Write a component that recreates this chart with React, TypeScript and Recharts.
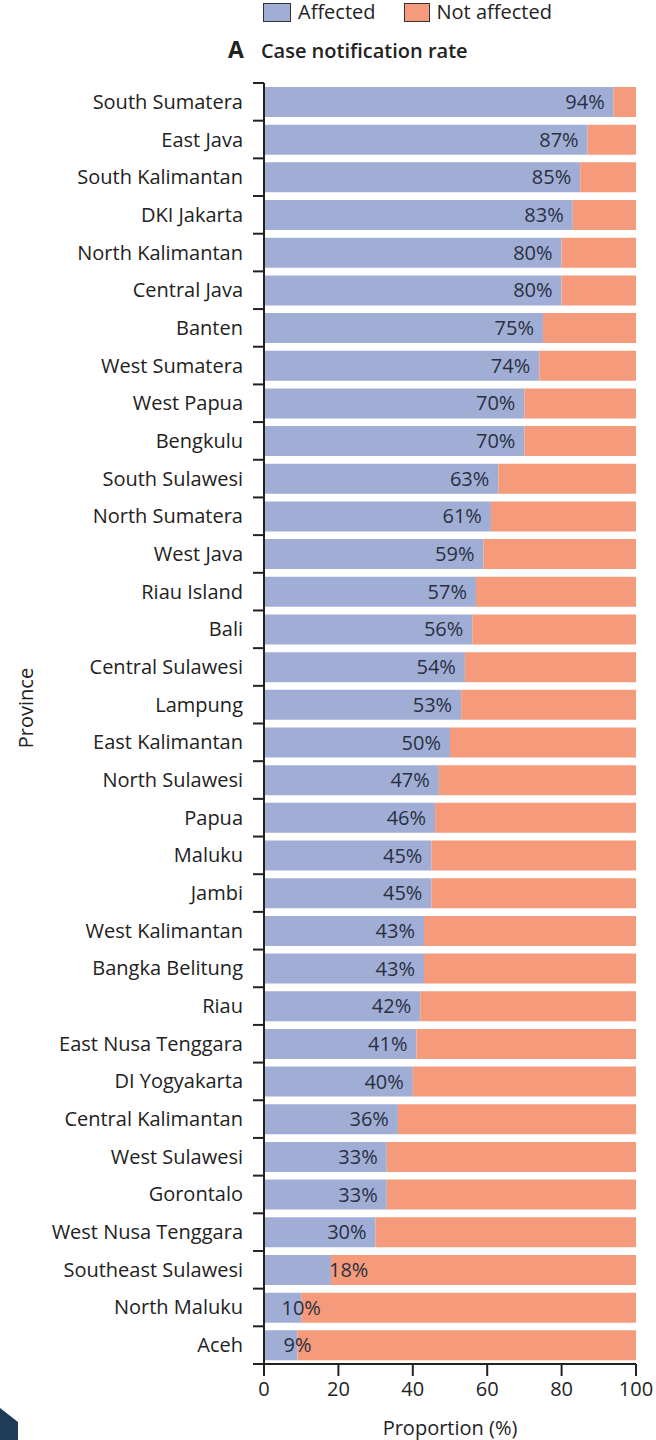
import { BarChart, Bar, XAxis, YAxis, LabelList, Label } from "recharts";

const provinces = [
  "South Sumatera", "East Java", "South Kalimantan", "DKI Jakarta", "North Kalimantan",
  "Central Java", "Banten", "West Sumatera", "West Papua", "Bengkulu",
  "South Sulawesi", "North Sumatera", "West Java", "Riau Island", "Bali",
  "Central Sulawesi", "Lampung", "East Kalimantan", "North Sulawesi", "Papua",
  "Maluku", "Jambi", "West Kalimantan", "Bangka Belitung", "Riau",
  "East Nusa Tenggara", "DI Yogyakarta", "Central Kalimantan", "West Sulawesi", "Gorontalo",
  "West Nusa Tenggara", "Southeast Sulawesi", "North Maluku", "Aceh",
];
const affected = [
  94, 87, 85, 83, 80, 80, 75, 74, 70, 70,
  63, 61, 59, 57, 56, 54, 53, 50, 47, 46,
  45, 45, 43, 43, 42, 41, 40, 36, 33, 33,
  30, 18, 10, 9,
];
const xTicks = [0, 20, 40, 60, 80, 100];

const BLUE = "#a0aed6";
const ORANGE = "#f59a7b";
const INK = "#222";
const FONT = "'Open Sans', sans-serif";

const W = 656;
const H = 1440;
const PLOT_LEFT = 264;
const PLOT_TOP = 83;
const PLOT_BOTTOM = 1364;
const BAND = (PLOT_BOTTOM - PLOT_TOP) / provinces.length;

const data = provinces.map((name, i) => ({
  name,
  affected: affected[i],
  notAffected: 100 - affected[i],
}));

const YTick = (props: any) => {
  const { y, payload, index } = props;
  const half = BAND / 2;
  return (
    <g>
      <text x={PLOT_LEFT - 21} y={y} dy={7} textAnchor="end" fontSize={20} fill={INK} fontFamily={FONT}>
        {payload.value}
      </text>
      <line x1={PLOT_LEFT - 11} x2={PLOT_LEFT} y1={y + half} y2={y + half} stroke={INK} strokeWidth={2} />
      {index === 0 && (
        <line x1={PLOT_LEFT - 11} x2={PLOT_LEFT} y1={y - half} y2={y - half} stroke={INK} strokeWidth={2} />
      )}
    </g>
  );
};

const PctLabel = (props: any) => {
  const { x, y, width, height, value } = props;
  const end = x + width;
  let tx = end - 9;
  let anchor: "end" | "start" | "middle" = "end";
  if (value < 15) {
    tx = end;
    anchor = "middle";
  } else if (value < 25) {
    tx = end - 2;
    anchor = "start";
  }
  return (
    <text x={tx} y={y + height / 2} dy={7} textAnchor={anchor} fontSize={20} fill="#2a3040" fontFamily={FONT}>
      {value}%
    </text>
  );
};

export default function App() {
  return (
    <div style={{ position: "absolute", top: 0, left: 0, width: W, height: H, background: "#fff", fontFamily: FONT, color: INK }}>
      {/* legend */}
      <div style={{ position: "absolute", top: 0, left: 263, display: "flex", alignItems: "center", fontSize: 20, lineHeight: "24px" }}>
        <span style={{ width: 26, height: 17, background: BLUE, border: "1.5px solid #333", display: "inline-block" }} />
        <span style={{ marginLeft: 7 }}>Affected</span>
        <span style={{ width: 24, height: 17, background: ORANGE, border: "1.5px solid #333", display: "inline-block", marginLeft: 28 }} />
        <span style={{ marginLeft: 7 }}>Not affected</span>
      </div>
      {/* panel title */}
      <div style={{ position: "absolute", top: 33, left: 228, display: "flex", alignItems: "baseline" }}>
        <span style={{ fontSize: 23, fontWeight: 700 }}>A</span>
        <span style={{ fontSize: 20, fontWeight: 600, marginLeft: 17 }}>Case notification rate</span>
      </div>
      <svg width={20} height={40} style={{ position: "absolute", left: 0, top: 1400 }}>
        <polygon points="0,8 18,22 18,40 0,40" fill="#1f3b57" />
      </svg>
      <BarChart
        width={W}
        height={H}
        data={data}
        layout="vertical"
        margin={{ top: PLOT_TOP, right: 20, bottom: 26, left: 10 }}
        barSize={30}
      >
        <XAxis
          type="number"
          domain={[0, 100]}
          ticks={xTicks}
          tickSize={12}
          tickMargin={6}
          tickLine={{ stroke: INK, strokeWidth: 2 }}
          axisLine={{ stroke: INK, strokeWidth: 2 }}
          tick={{ fontSize: 20, fill: INK, fontFamily: FONT }}
          height={50}
        >
          <Label
            content={() => (
              <text x={450} y={1435} textAnchor="middle" fontSize={20} fill={INK} fontFamily={FONT}>
                Proportion (%)
              </text>
            )}
          />
        </XAxis>
        <YAxis
          type="category"
          dataKey="name"
          width={254}
          tickLine={false}
          axisLine={{ stroke: INK, strokeWidth: 2 }}
          tick={<YTick />}
          interval={0}
        >
          <Label
            content={() => (
              <text
                x={33}
                y={708}
                transform="rotate(-90 33 708)"
                textAnchor="middle"
                fontSize={20}
                fill={INK}
                fontFamily={FONT}
              >
                Province
              </text>
            )}
          />
        </YAxis>
        <Bar dataKey="affected" stackId="a" fill={BLUE} isAnimationActive={false}>
          <LabelList dataKey="affected" content={<PctLabel />} />
        </Bar>
        <Bar dataKey="notAffected" stackId="a" fill={ORANGE} isAnimationActive={false} />
      </BarChart>
    </div>
  );
}
